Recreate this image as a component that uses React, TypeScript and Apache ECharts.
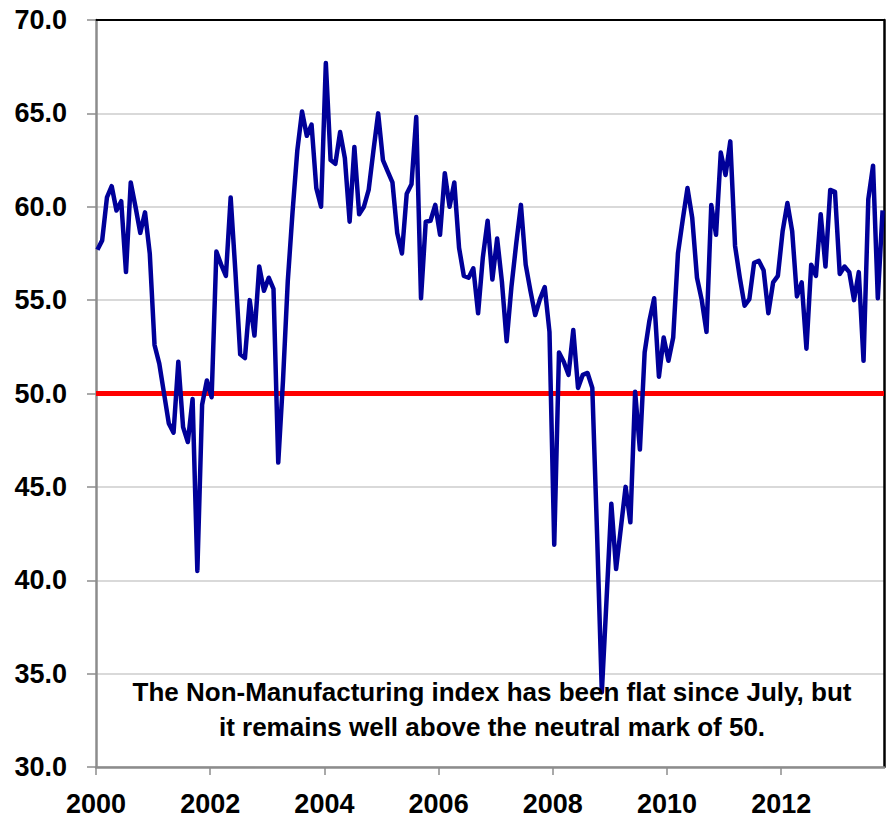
import React, { useEffect, useRef } from "react";
import * as echarts from "echarts";

// ISM Non-Manufacturing index, monthly, Jan 2000 – Oct 2013
const startYear = 2000;
const indexValues: number[] = [
  // 2000
  57.7, 58.2, 60.5, 61.1, 59.8, 60.3, 56.5, 61.3, 60.0, 58.6, 59.7, 57.5,
  // 2001
  52.6, 51.6, 50.0, 48.4, 47.9, 51.7, 48.2, 47.4, 49.7, 40.5, 49.4, 50.7,
  // 2002
  49.8, 57.6, 56.9, 56.3, 60.5, 56.5, 52.1, 51.9, 55.0, 53.1, 56.8, 55.5,
  // 2003
  56.2, 55.6, 46.3, 50.7, 56.0, 59.7, 63.0, 65.1, 63.8, 64.4, 61.0, 60.0,
  // 2004
  67.7, 62.5, 62.3, 64.0, 62.6, 59.2, 63.2, 59.6, 60.0, 60.9, 63.0, 65.0,
  // 2005
  62.5, 61.9, 61.3, 58.6, 57.5, 60.7, 61.2, 64.8, 55.1, 59.2, 59.25, 60.1,
  // 2006
  58.5, 61.8, 60.0, 61.3, 57.8, 56.3, 56.2, 56.7, 54.3, 57.3, 59.25, 56.1,
  // 2007
  58.3, 56.0, 52.8, 55.7, 58.0, 60.1, 56.9, 55.5, 54.2, 55.05, 55.7, 53.3,
  // 2008
  41.9, 52.2, 51.7, 51.0, 53.4, 50.3, 51.0, 51.1, 50.3, 42.5, 34.0, 39.0,
  // 2009
  44.1, 40.6, 42.8, 45.0, 43.1, 50.1, 47.0, 52.2, 53.9, 55.1, 50.9, 53.0,
  // 2010
  51.75, 53.0, 57.5, 59.3, 61.0, 59.4, 56.2, 55.0, 53.3, 60.1, 58.5, 62.9,
  // 2011
  61.7, 63.5, 57.9, 56.2, 54.7, 55.05, 57.0, 57.1, 56.6, 54.3, 55.95, 56.3,
  // 2012
  58.7, 60.2, 58.7, 55.2, 55.95, 52.4, 56.9, 56.3, 59.6, 56.8, 60.9, 60.8,
  // 2013
  56.4, 56.8, 56.5, 55.0, 56.5, 51.75, 60.4, 62.2, 55.1, 59.8,
];

const xTickYears = [2000, 2002, 2004, 2006, 2008, 2010, 2012];
const xMin = 2000;
const xMax = 2013.8;
const yMin = 30;
const yMax = 70;
const yStep = 5;
const neutralMark = 50;
const noteLines = [
  "The Non-Manufacturing index has been flat since July, but",
  "it remains well above the neutral mark of 50.",
];

const FONT = '"Liberation Sans", Arial, sans-serif';

export default function App() {
  const ref = useRef<HTMLDivElement>(null);

  useEffect(() => {
    document.body.style.margin = "0";
    if (!ref.current) return;
    const chart = echarts.init(ref.current, undefined, { renderer: "svg" });

    const seriesData = indexValues.map((v, i) => [startYear + (i + 0.3) / 12, v]);
    const neutralData = [
      [xMin, neutralMark],
      [xMax, neutralMark],
    ];

    const option: any = {
      animation: false,
      backgroundColor: "#ffffff",
      grid: { left: 96, right: 7, top: 20, bottom: 53, containLabel: false },
      xAxis: [
        {
          type: "value",
          min: xMin,
          max: xMax,
          interval: 2,
          axisLine: { show: true, onZero: false, lineStyle: { color: "#8c8c8c", width: 2.5 } },
          axisTick: {
            show: true,
            length: 8,
            customValues: xTickYears,
            lineStyle: { color: "#8c8c8c", width: 1.5 },
          },
          axisLabel: {
            customValues: xTickYears,
            formatter: (v: number) => String(Math.round(v)),
            fontFamily: FONT,
            fontWeight: "bold",
            fontSize: 27,
            color: "#000",
            margin: 23,
          },
          splitLine: { show: false },
        },
        {
          type: "value",
          position: "top",
          min: xMin,
          max: xMax,
          axisLine: { show: true, onZero: false, lineStyle: { color: "#000", width: 2 } },
          axisTick: { show: false },
          axisLabel: { show: false },
          splitLine: { show: false },
        },
      ],
      yAxis: [
        {
          type: "value",
          min: yMin,
          max: yMax,
          interval: yStep,
          axisLine: { show: true, onZero: false, lineStyle: { color: "#8c8c8c", width: 2.5 } },
          axisTick: { show: true, length: 9, lineStyle: { color: "#8c8c8c", width: 1.5 } },
          axisLabel: {
            formatter: (v: number) => v.toFixed(1),
            fontFamily: FONT,
            fontWeight: "bold",
            fontSize: 27,
            color: "#000",
            margin: 29,
          },
          splitLine: { show: true, lineStyle: { color: "#d9d9d9", width: 2 } },
        },
        {
          type: "value",
          position: "right",
          min: yMin,
          max: yMax,
          axisLine: { show: true, onZero: false, lineStyle: { color: "#000", width: 2.5 } },
          axisTick: { show: false },
          axisLabel: { show: false },
          splitLine: { show: false },
        },
      ],
      series: [
        {
          type: "line",
          data: neutralData,
          symbol: "none",
          silent: true,
          lineStyle: { color: "#ff0000", width: 5 },
          z: 2,
        },
        {
          type: "line",
          data: seriesData,
          symbol: "none",
          showSymbol: false,
          lineStyle: { color: "#000099", width: 4.5, join: "round" },
          itemStyle: { color: "#000099" },
          z: 3,
        },
      ],
      graphic: noteLines.map((t, i) => ({
        type: "text",
        x: 492,
        y: 692 + i * 35,
        z: 10,
        style: {
          text: t,
          fill: "#000",
          font: `bold 26px ${FONT}`,
          textAlign: "center",
          textVerticalAlign: "middle",
        },
      })),
    };

    chart.setOption(option);
    return () => chart.dispose();
  }, []);

  return <div ref={ref} style={{ position: "absolute", left: 0, top: 0, width: 891, height: 820 }} />;
}
